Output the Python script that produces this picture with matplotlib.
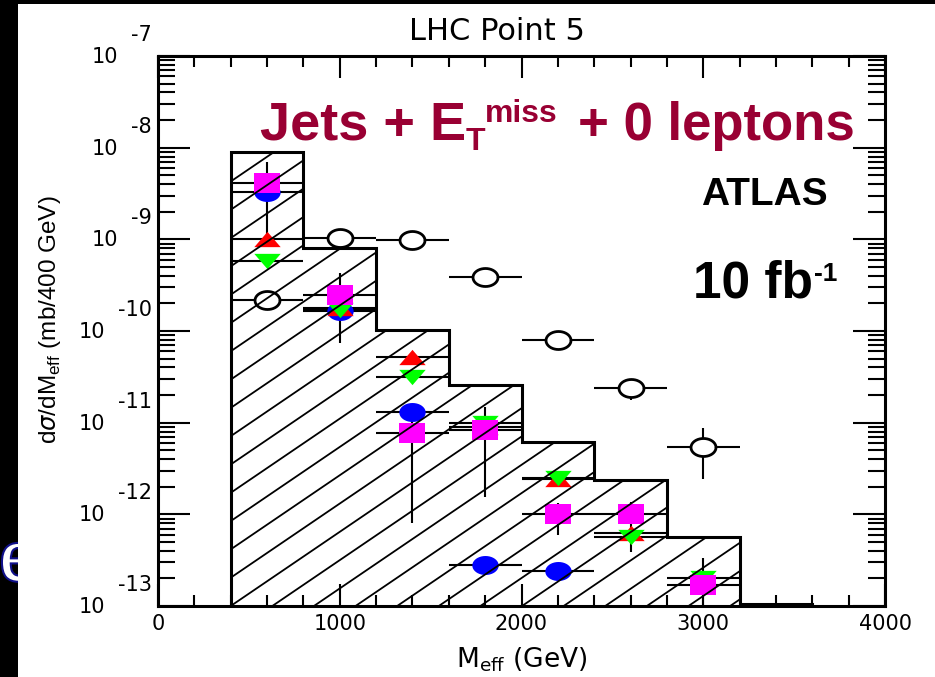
import numpy as np
import matplotlib
matplotlib.use('Agg')
import matplotlib.pyplot as plt
import matplotlib.patheffects as pe
from matplotlib.patches import Rectangle
from matplotlib.ticker import LogLocator, MultipleLocator, NullFormatter

plt.rcParams['font.family'] = ['DejaVu Sans']
plt.rcParams['mathtext.fontset'] = 'dejavusans'

W, H = 935, 677

# hatched histogram, 400 GeV bins
bin_edges = [400, 800, 1200, 1600, 2000, 2400, 2800, 3200, 3600]
bin_vals = [9.0e-9, 8.0e-10, 1.03e-10, 2.6e-11, 6.2e-12, 2.35e-12, 5.7e-13, 1.05e-13]

# open circles
sm_x = [600, 1000, 1400, 1800, 2200, 2600, 3000]
sm_y = [2.2e-10, 1.03e-9, 9.9e-10, 3.9e-10, 8.0e-11, 2.4e-11, 5.4e-12]
sm_lo = [2.2e-10, 1.03e-9, 9.9e-10, 3.9e-10, 8.0e-11, 1.75e-11, 2.4e-12]
sm_hi = [2.2e-10, 1.03e-9, 9.9e-10, 3.9e-10, 8.0e-11, 2.4e-11, 8.75e-12]

# blue circles
bl_x = [600, 1000, 1400, 1800, 2200]
bl_y = [3.3e-9, 1.65e-10, 1.3e-11, 2.8e-13, 2.4e-13]
bl_lo = [1.06e-9, 1.65e-10, 1.3e-11, 2.8e-13, 2.4e-13]
bl_hi = [7.0e-9, 1.65e-10, 1.3e-11, 2.8e-13, 2.4e-13]

# red triangles
rd_x = [600, 1000, 1400, 1800, 2200, 2600]
rd_y = [1.0e-9, 1.8e-10, 5.2e-11, 9.0e-12, 2.4e-12, 6.3e-13]

# green triangles
gr_x = [600, 1000, 1400, 1800, 2200, 2600, 3000]
gr_y = [5.8e-10, 1.7e-10, 3.15e-11, 1.0e-11, 2.5e-12, 5.7e-13, 2.0e-13]
gr_lo = [5.8e-10, 1.7e-10, 3.15e-11, 1.0e-11, 2.5e-12, 3.9e-13, 2.0e-13]
gr_hi = [5.8e-10, 1.7e-10, 3.15e-11, 1.0e-11, 2.5e-12, 1.36e-12, 2.0e-13]

# magenta squares
mg_x = [600, 1000, 1400, 1800, 2200, 2600, 3000]
mg_y = [4.1e-9, 2.5e-10, 7.7e-12, 8.3e-12, 1.0e-12, 1.0e-12, 1.7e-13]
mg_lo = [4.1e-9, 7.4e-11, 8.0e-13, 1.55e-12, 6.0e-13, 1.0e-12, 1.0e-13]
mg_hi = [4.1e-9, 4.3e-10, 1.3e-11, 1.48e-11, 1.33e-12, 1.0e-12, 3.3e-13]

half_bin = 200

# slightly flattened marker shapes
t = np.linspace(0, 2 * np.pi, 41)
ellipse = list(zip(np.cos(t), 0.72 * np.sin(t)))
square = [(-1, -0.77), (1, -0.77), (1, 0.77), (-1, 0.77), (-1, -0.77)]
tri_up = [(-1, -0.58), (1, -0.58), (0, 0.58), (-1, -0.58)]
tri_dn = [(-1, 0.58), (1, 0.58), (0, -0.58), (-1, 0.58)]

fig = plt.figure(figsize=(W / 100, H / 100), dpi=100, facecolor='black')

# slide text peeking out at the left edge, under the white page
fig.text(0.0, 97 / H, 'e', fontsize=55, family='Liberation Serif', color='white',
         va='baseline', ha='left', zorder=-2,
         path_effects=[pe.withStroke(linewidth=3, foreground='#10108a')])
fig.add_artist(Rectangle((18 / W, 0), 1 - 18 / W, 1 - 4 / H, transform=fig.transFigure,
                         facecolor='white', edgecolor='none', zorder=-1))

ax = fig.add_axes([158 / W, 71 / H, 727 / W, 550 / H], zorder=0)
ax.set_yscale('log')
ax.set_xlim(0, 4000)
ax.set_ylim(1e-13, 1e-7)


def draw_points(x, y, lo, hi, marker, ms, fc, ec, mew, z):
    y = np.array(y)
    yerr = None
    if lo is not None:
        yerr = [y - np.array(lo), np.array(hi) - y]
    ax.errorbar(x, y, xerr=half_bin, yerr=yerr, fmt='none', ecolor='black',
                elinewidth=1.5, capsize=0, zorder=2)
    ax.plot(x, y, ls='none', marker=marker, ms=ms, mfc=fc, mec=ec, mew=mew, zorder=z)


draw_points(sm_x, sm_y, sm_lo, sm_hi, ellipse, 18, 'white', 'black', 2.0, 3.0)
draw_points(bl_x, bl_y, bl_lo, bl_hi, ellipse, 19, '#0000ff', '#0000ff', 0, 3.1)
draw_points(rd_x, rd_y, None, None, tri_up, 19, '#ff0000', '#ff0000', 0, 3.2)
draw_points(gr_x, gr_y, gr_lo, gr_hi, tri_dn, 19, '#00ff00', '#00ff00', 0, 3.3)
draw_points(mg_x, mg_y, mg_lo, mg_hi, square, 19, '#ff00ff', '#ff00ff', 0, 3.4)

# histogram: invisible filled area used as clip for the hatch lines
area = ax.stairs(bin_vals, bin_edges, baseline=1e-13, fill=True,
                 facecolor='none', edgecolor='none', zorder=4)
k = 0.68 * 727 / 550
dy = 28.3 / 550
xs = np.array([0.0, 1.0])
for n in range(-60, 40):
    ln, = ax.plot(xs, k * (xs - 0.1) + n * dy, color='black', lw=1.3,
                  transform=ax.transAxes, zorder=4)
    ln.set_clip_path(area)
ax.stairs(bin_vals, bin_edges, baseline=1e-13, fill=False, color='black',
          lw=2.2, zorder=5)

# axes frame and ticks
for s in ax.spines.values():
    s.set_linewidth(2.2)
ax.xaxis.set_major_locator(MultipleLocator(1000))
ax.xaxis.set_minor_locator(MultipleLocator(200))
ax.yaxis.set_major_locator(LogLocator(base=10, numticks=20))
ax.yaxis.set_minor_locator(LogLocator(base=10, subs=np.arange(2, 10), numticks=20))
ax.yaxis.set_major_formatter(NullFormatter())
ax.yaxis.set_minor_formatter(NullFormatter())
ax.tick_params(which='both', direction='in', top=True, right=True, width=1.5)
ax.tick_params(axis='x', which='major', length=16, labelsize=15, pad=6)
ax.tick_params(axis='x', which='minor', length=8)
ax.tick_params(axis='y', which='major', length=23)
ax.tick_params(axis='y', which='minor', length=12)

# y tick labels: "10" with the exponent set high to its right
for p in range(7, 14):
    ex = ax.annotate('-%d' % p, xy=(0, 10.0 ** -p), xycoords=('axes fraction', 'data'),
                     xytext=(-6, 21), textcoords='offset pixels', ha='right', va='center',
                     fontsize=15, annotation_clip=False)
    ax.annotate('10', xy=(0, 10.0 ** -p), xycoords=(ex, 'data'),
                xytext=(-13, -1), textcoords='offset pixels', ha='right', va='center',
                fontsize=15, annotation_clip=False)

ax.set_xlabel(r'M$_{\mathregular{eff}}$ (GeV)', fontsize=19)
ax.xaxis.set_label_coords(0.5, -0.098)
ax.xaxis.label.set_va('center')
ax.set_ylabel(r'd$\sigma$/dM$_{\mathregular{eff}}$ (mb/400 GeV)', fontsize=17.5,
              family='Liberation Sans')
ax.yaxis.set_label_coords(-0.1486, 0.52)
ax.yaxis.label.set_va('center')

fig.text(497 / W, 1 - 40 / H, 'LHC Point 5', ha='center', va='baseline', fontsize=22)

# overlay labels
red = '#990033'
bold = dict(family='Liberation Sans', weight='bold', va='baseline', ha='left')
fig.text(260 / W, 1 - 140 / H, 'Jets + E', fontsize=39, color=red, **bold)
fig.text(466 / W, 1 - 150 / H, 'T', fontsize=23, color=red, **bold)
fig.text(485 / W, 1 - 122 / H, 'miss', fontsize=23, color=red, **bold)
fig.text(578 / W, 1 - 140 / H, '+ 0 leptons', fontsize=38, color=red, **bold)
fig.text(764 / W, 1 - 205 / H, 'ATLAS', fontsize=28, color='black',
         **dict(bold, ha='center'))
fig.text(693 / W, 1 - 298 / H, '10 fb', fontsize=37, color='black', **bold)
fig.text(814 / W, 1 - 281 / H, '-1', fontsize=19, color='black', **bold)

fig.savefig('out.png', dpi=100, facecolor=fig.get_facecolor())
